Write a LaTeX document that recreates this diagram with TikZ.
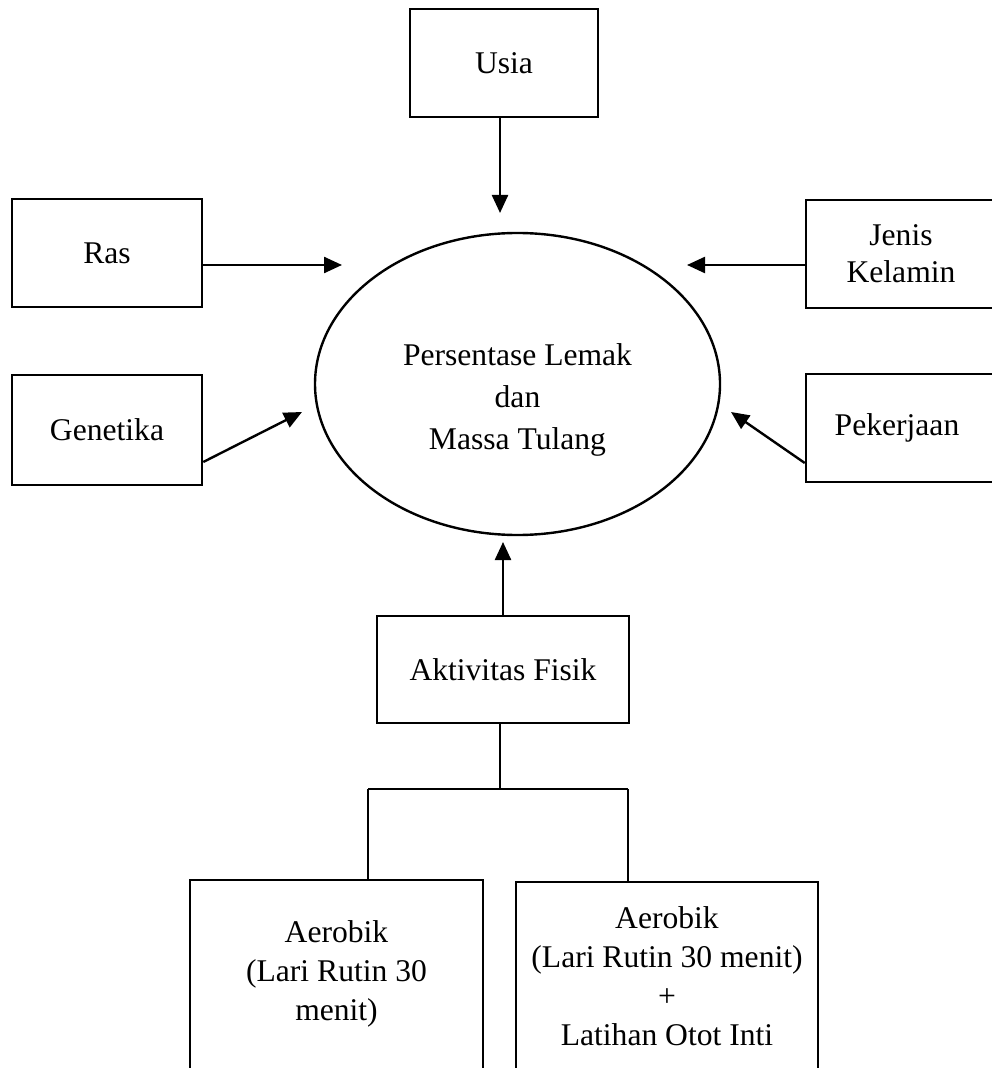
\documentclass[tikz,border=0pt]{standalone}
\usepackage{fontspec}
\setmainfont{Liberation Serif}
\usetikzlibrary{arrows.meta,shapes.geometric}
\begin{document}
\begin{tikzpicture}[x=0.5pt,y=-0.5pt,
  box/.style={draw,line width=1.25pt,rectangle,inner sep=0pt},
  lbl/.style={font=\fontsize{15.8}{18.5}\selectfont,align=center,inner sep=0pt},
  arr/.style={line width=1.2pt,-{Triangle[length=9pt,width=8pt]}},
  tree/.style={line width=0.6pt}]
\useasboundingbox (0,0) rectangle (991,1068);
% boxes
\node[box,minimum width=94pt,minimum height=54pt] (usia) at (504,63) {};
\node[lbl] (usiat) at (usia) {Usia};
\node[box,minimum width=95pt,minimum height=54pt] (ras) at (107,253) {};
\node[lbl] (rast) at (ras) {Ras};
\node[box,minimum width=95pt,minimum height=55pt] (gen) at (107,430) {};
\node[lbl] (gent) at (gen) {Genetika};
\node[box,minimum width=97pt,minimum height=54pt] (jk) at (903,254) {};
\node[lbl] (jkt) at (901,254) {Jenis\\Kelamin};
\node[box,minimum width=97pt,minimum height=54pt] (pek) at (903,428) {};
\node[lbl] (pekt) at (897,428) {Pekerjaan};
\node[box,minimum width=126pt,minimum height=53.5pt] (akt) at (503,669.5) {};
\node[lbl] (aktt) at (akt) {Aktivitas Fisik};
% ellipse
\node[draw,line width=1.2pt,ellipse,inner sep=0pt,minimum width=202.5pt,minimum height=151pt] (ell) at (517.5,384) {};
\node[lbl,font=\fontsize{15.8}{21}\selectfont] (ellt) at (517.5,400) {Persentase Lemak\\dan\\Massa Tulang};
% bottom boxes
\node[box,minimum width=146.5pt,minimum height=110pt] (bl) at (336.5,990) {};
\node[lbl,font=\fontsize{15.8}{19.5}\selectfont] (blt) at (336.5,974) {Aerobik\\(Lari Rutin 30\\menit)};
\node[box,minimum width=151pt,minimum height=109pt] (br) at (667,991) {};
\node[lbl,font=\fontsize{15.8}{19.5}\selectfont] (brt) at (667,976) {Aerobik\\(Lari Rutin 30 menit)\\+\\Latihan Otot Inti};
% arrow tips
\coordinate (tipU) at (500,213);
\coordinate (tipR) at (342,265);
\coordinate (tipG) at (302,412);
\coordinate (tipJ) at (687,265);
\coordinate (tipP) at (731,412);
\coordinate (tipA) at (503,542);
\draw[arr] (tipU |- usia.south) -- (tipU);
\draw[arr] (ras.east |- tipR) -- (tipR);
\draw[arr] ([yshift=-16pt]gen.east) -- (tipG);
\draw[arr] (jk.west |- tipJ) -- (tipJ);
\draw[arr] ([yshift=-17.5pt]pek.west) -- (tipP);
\draw[arr] (akt.north) -- (tipA);
% tree
\coordinate (j) at (500,789);
\coordinate (jl) at (368,789);
\coordinate (jr) at (628,789);
\draw[tree] (j |- akt.south) -- (j);
\draw[tree] (jl) -- (jr);
\draw[tree] (jl) -- (jl |- bl.north);
\draw[tree] (jr) -- (jr |- br.north);
\end{tikzpicture}
\end{document}
